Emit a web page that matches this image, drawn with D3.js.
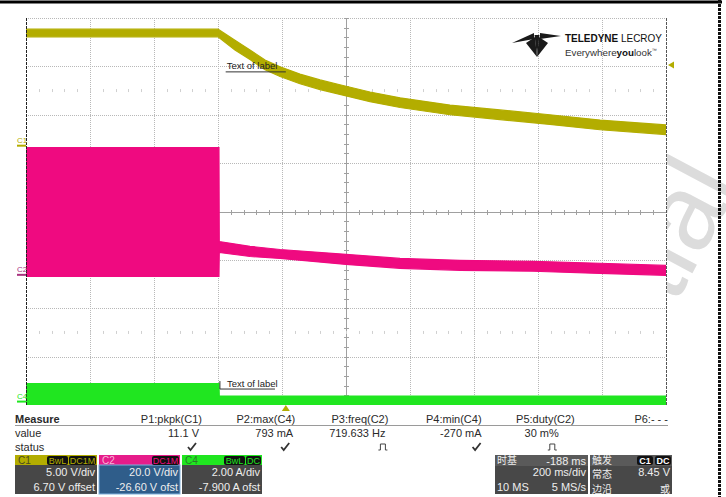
<!DOCTYPE html>
<html><head><meta charset="utf-8">
<script src="https://cdn.jsdelivr.net/npm/d3@7"></script>
<style>
html,body{margin:0;padding:0;background:#fff;}
svg{display:block;font-family:"Liberation Sans",Arial,sans-serif;}
</style></head><body>
<svg id="c" width="726" height="497"></svg>
<script>
// ---------------- data ----------------
const timeDomain = [-812, 1188];           // ms (200 ms/div, delay -188 ms)
const c1Time = [-812, -212, -159, -112, -65, -18, 44, 107, 169, 263, 357, 513, 669, 825, 982, 1188];
const c1Max  = [12.15, 12.15, 11.0, 10.0, 8.95, 8.25, 7.5, 6.9, 6.4, 5.65, 5.05, 4.3, 3.8, 3.3, 2.75, 2.25];
const c1Min  = [11.35, 11.35, 10.0, 9.0, 7.95, 7.25, 6.5, 5.9, 5.4, 4.65, 4.05, 3.3, 2.8, 2.3, 1.75, 1.25];
const c2Time = [-812, -209, -208, -112, -18, 188, 357, 544, 772, 982, 1188];
const c2Max  = [53.0, 53.0, 14.2, 12.2, 10.9, 8.9, 7.2, 6.4, 6.0, 5.2, 4.3];
const c2Min  = [-0.2, -0.2, 9.7, 8.0, 7.2, 4.7, 3.1, 2.3, 1.9, 1.0, 0.2];
const c4Time = [-812, -209, -208, 1188];
const c4Max  = [0.78, 0.78, 0.27, 0.27];
const c4Min  = [-0.27, -0.27, -0.27, -0.27];
const c1Offset = 6.7, c1PerDiv = 5;
const c2Offset = -26.6, c2PerDiv = 20;
const c4Offset = -7.9, c4PerDiv = 2;
const triggerLevel = 8.45;
const measureLabels = ["P1:pkpk(C1)", "P2:max(C4)", "P3:freq(C2)", "P4:min(C4)", "P5:duty(C2)", "P6:- - -"];
const measureValues = ["11.1 V", "793 mA", "719.633 Hz", "-270 mA", "30 m%", ""];
const measureStatus = ["ok", "ok", "pulse", "ok", "pulse", ""];
const channelNames = ["C1", "C2", "C4"];
const channelTags = [["BwL", "DC1M"], ["DC1M"], ["BwL", "DC"]];
const channelScale = ["5.00 V/div", "20.0 V/div", "2.00 A/div"];
const channelOffsetText = ["6.70 V offset", "-26.60 V ofst", "-7.900 A ofst"];
const timebaseText = ["时基", "-188 ms", "200 ms/div", "10 MS", "5 MS/s"];
const triggerText = ["触发", "常态", "8.45 V", "边沿", "或"];
const triggerTags = ["C1", "DC"];
const annotationText = "Text of label";
const watermarkText = "tial";

// ---------------- layout ----------------
const P = {l: 26, r: 666, t: 18, b: 405};
const OLIVE = "#b3ad00", MAG = "#ef0a80", GRN = "#20e620";
const svg = d3.select("#c");

const x = d3.scaleLinear().domain(timeDomain).range([P.l, P.r]);
const yC1 = d3.scaleLinear().domain([-c1Offset - 4*c1PerDiv, -c1Offset + 4*c1PerDiv]).range([P.b, P.t]);
const yC2 = d3.scaleLinear().domain([-c2Offset - 4*c2PerDiv, -c2Offset + 4*c2PerDiv]).range([P.b, P.t]);
const yC4 = d3.scaleLinear().domain([-c4Offset - 4*c4PerDiv, -c4Offset + 4*c4PerDiv]).range([P.b, P.t]);
const gx = d3.scaleLinear().domain([0, 10]).range([P.l, P.r]);
const gy = d3.scaleLinear().domain([0, 8]).range([P.t, P.b]);

// watermark (behind the screen area)
svg.append("text").attr("transform", "translate(675,306) rotate(-62)")
  .attr("font-size", 108).attr("fill", "#dcdcdc").text(watermarkText);
svg.append("rect").attr("x", 0).attr("y", P.t).attr("width", P.r + 1).attr("height", P.b - P.t).attr("fill", "#fff");

// frame
svg.append("line").attr("x1", 0).attr("x2", 722).attr("y1", 2).attr("y2", 2).attr("stroke", "#000").attr("stroke-width", 3);
svg.append("line").attr("x1", 719.5).attr("x2", 719.5).attr("y1", 0).attr("y2", 497).attr("stroke", "#111").attr("stroke-width", 3).attr("stroke-dasharray", "3,1");

// grid
const g = svg.append("g");
g.selectAll(".vg").data(d3.range(1, 10).filter(i => i !== 5)).join("line")
  .attr("x1", d => gx(d) + 0.5).attr("x2", d => gx(d) + 0.5).attr("y1", P.t).attr("y2", P.b)
  .attr("stroke", "#b8b8b8").attr("stroke-dasharray", "1,1");
g.selectAll(".hg").data(d3.range(0, 8).filter(i => i !== 4)).join("line")
  .attr("y1", d => Math.round(gy(d)) + 0.5).attr("y2", d => Math.round(gy(d)) + 0.5).attr("x1", P.l).attr("x2", P.r)
  .attr("stroke", "#b8b8b8").attr("stroke-dasharray", "1,1");
// center axes
const cy = Math.round(gy(4)) + 0.5, cx = Math.round(gx(5)) + 0.5;
g.append("line").attr("x1", P.l).attr("x2", P.r).attr("y1", cy).attr("y2", cy).attr("stroke", "#a0a0a0");
g.append("line").attr("y1", P.t).attr("y2", P.b).attr("x1", cx).attr("x2", cx).attr("stroke", "#a0a0a0");
g.selectAll(".tx").data(d3.range(0, 50)).join("line")
  .attr("x1", d => Math.round(gx(d / 5)) + 0.5).attr("x2", d => Math.round(gx(d / 5)) + 0.5)
  .attr("y1", cy - 2.5).attr("y2", cy + 2.5).attr("stroke", "#a0a0a0");
g.selectAll(".ty").data(d3.range(0, 40)).join("line")
  .attr("y1", d => Math.round(gy(d / 5)) + 0.5).attr("y2", d => Math.round(gy(d / 5)) + 0.5)
  .attr("x1", cx - 2.5).attr("x2", cx + 2.5).attr("stroke", "#a0a0a0");
// faint tick rows
[1.5, 6.5].forEach(r => {
  g.selectAll(null).data(d3.range(1, 50)).join("line")
    .attr("x1", d => Math.round(gx(d / 5)) + 0.5).attr("x2", d => Math.round(gx(d / 5)) + 0.5)
    .attr("y1", gy(r) - 1.5).attr("y2", gy(r) + 1.5).attr("stroke", "#d0d0d0");
});

// traces
svg.append("clipPath").attr("id", "clip").append("rect")
  .attr("x", P.l).attr("y", P.t).attr("width", P.r - P.l).attr("height", P.b - P.t);
const tr = svg.append("g").attr("clip-path", "url(#clip)");
function band(times, mins, maxs, ys, col) {
  const d = times.map((t, i) => ({t, lo: mins[i], hi: maxs[i]}));
  const area = d3.area().x(p => x(p.t)).y0(p => ys(p.lo)).y1(p => ys(p.hi));
  tr.append("path").datum(d).attr("d", area).attr("fill", col).attr("stroke", col).attr("stroke-width", 1.2);
}
band(c1Time, c1Min, c1Max, yC1, OLIVE);
band(c2Time, c2Min, c2Max, yC2, MAG);
band(c4Time, c4Min, c4Max, yC4, GRN);

// plot edges
svg.append("line").attr("x1", P.l + 0.5).attr("x2", P.l + 0.5).attr("y1", P.t).attr("y2", P.b)
  .attr("stroke", "#222").attr("stroke-dasharray", "3,1");
svg.append("line").attr("x1", P.r + 0.5).attr("x2", P.r + 0.5).attr("y1", P.t).attr("y2", P.b)
  .attr("stroke", "#555").attr("stroke-dasharray", "3,1");

// channel ground markers
[["C1", yC1(0) - 1, OLIVE], ["C2", yC2(0) - 1, "#a8327f"], ["C4", yC4(0) - 1, GRN]].forEach(([n, yy, col]) => {
  svg.append("line").attr("x1", 17).attr("x2", 26).attr("y1", yy).attr("y2", yy).attr("stroke", col).attr("stroke-width", 2);
  svg.append("text").attr("x", 17).attr("y", yy - 2.5).attr("font-size", 8).attr("fill", col).text(n);
});
// trigger level marker (right)
const ty = yC1(triggerLevel);
svg.append("path").attr("d", `M${P.r + 2},${ty} L${P.r + 8},${ty - 3.5} L${P.r + 8},${ty + 3.5}Z`).attr("fill", OLIVE);
// trigger time marker (bottom)
const tx0 = x(0);
svg.append("path").attr("d", `M${tx0},${P.b} L${tx0 - 4},${P.b + 6} L${tx0 + 4},${P.b + 6}Z`).attr("fill", OLIVE);

// annotations
const a1y = yC1(7.73);
svg.append("line").attr("x1", x(-188)).attr("x2", x(0)).attr("y1", a1y).attr("y2", a1y).attr("stroke", "#333");
svg.append("text").attr("x", x(-188) + 1).attr("y", a1y - 3).attr("font-size", 9.5).attr("fill", "#222").text(annotationText);
const a2y = yC4(0.56);
svg.append("line").attr("x1", x(-206)).attr("x2", x(-34)).attr("y1", a2y).attr("y2", a2y).attr("stroke", "#333");
svg.append("line").attr("x1", x(-206)).attr("x2", x(-206)).attr("y1", a2y - 8).attr("y2", a2y).attr("stroke", "#333");
svg.append("text").attr("x", x(-206) + 7).attr("y", a2y - 2).attr("font-size", 9.5).attr("fill", "#222").text(annotationText);

// logo
const lg = svg.append("g").attr("fill", "#1a1a1a");
lg.append("path").attr("d", "M512,43 L534,33 L534,39 Z");
lg.append("path").attr("d", "M561,36 L540,33 L540,39 Z");
lg.append("path").attr("d", "M526,43 L535,37 L537,57 Z");
lg.append("path").attr("d", "M548,43 L539,37 L537,57 Z");
lg.append("path").attr("d", "M534.5,35 L539.5,35 L537,56 Z");
const lt = svg.append("text").attr("x", 565).attr("y", 41.5).attr("font-size", 11.5).attr("fill", "#111")
  .attr("textLength", 97).attr("lengthAdjust", "spacingAndGlyphs");
lt.append("tspan").attr("font-weight", "bold").text("TELEDYNE ");
lt.append("tspan").text("LECROY");
const lt2 = svg.append("text").attr("x", 565).attr("y", 56).attr("font-size", 9.5).attr("fill", "#333")
  .attr("textLength", 92).attr("lengthAdjust", "spacingAndGlyphs");
lt2.append("tspan").text("Everywhere");
lt2.append("tspan").attr("font-weight", "bold").attr("fill", "#111").text("you");
lt2.append("tspan").text("look");
lt2.append("tspan").attr("font-size", 5).attr("dy", -4).text("™");

// measure table
const colX = d3.scaleLinear().domain([0, 5]).range([202, 668]);
const T = svg.append("g").attr("font-size", 11).attr("fill", "#2a2a2a");
T.append("text").attr("x", 15).attr("y", 423).attr("font-weight", "bold").text("Measure");
T.append("text").attr("x", 15).attr("y", 437).text("value");
T.append("text").attr("x", 15).attr("y", 451).text("status");
svg.append("line").attr("x1", 15).attr("x2", 668).attr("y1", 425.5).attr("y2", 425.5).attr("stroke", "#9a9a9a");
const valShift = [-3, -2, -3, 0, -16, 0];
const statShift = [-9, -9, -5, -4, -22, 0];
measureLabels.forEach((m, i) => {
  T.append("text").attr("x", colX(i)).attr("y", 423).attr("text-anchor", "end").text(m);
  T.append("text").attr("x", colX(i) + valShift[i]).attr("y", 437).attr("text-anchor", "end").text(measureValues[i]);
  const sx = colX(i) + statShift[i];
  if (measureStatus[i] === "ok") {
    svg.append("path").attr("d", `M${sx - 5},${447} L${sx - 2.5},${450} L${sx + 3},${443}`)
      .attr("fill", "none").attr("stroke", "#333").attr("stroke-width", 1.8);
  } else if (measureStatus[i] === "pulse") {
    svg.append("path").attr("d", `M${sx - 5},${450} L${sx - 3},${450} L${sx - 3},${444} L${sx + 2},${444} L${sx + 2},${450} L${sx + 4},${450}`)
      .attr("fill", "none").attr("stroke", "#444").attr("stroke-width", 1);
  }
});

// channel boxes
const boxX = [15, 99, 182], boxW = [82, 81, 80];
const hdrCol = [OLIVE, "#e61c8a", GRN];
const hdrText = ["#4a4a20", "#f7b4d6", "#2b7a2b"];
const tagCol = [OLIVE, MAG, GRN];
const bodyCol = ["#474747", "#2f5d8a", "#474747"];
channelNames.forEach((n, i) => {
  const bx = boxX[i], w = boxW[i];
  svg.append("rect").attr("x", bx).attr("y", 455).attr("width", w).attr("height", 10).attr("fill", hdrCol[i]);
  svg.append("rect").attr("x", bx).attr("y", 465).attr("width", w).attr("height", 29).attr("fill", bodyCol[i])
    .attr("stroke", i === 1 ? "#7fb0dc" : "none");
  svg.append("text").attr("x", bx + 3).attr("y", 464).attr("font-size", 10).attr("fill", hdrText[i]).text(n);
  let rx = bx + w - 1;
  channelTags[i].slice().reverse().forEach(tg => {
    const tw = tg.length * 6 + 3;
    svg.append("rect").attr("x", rx - tw).attr("y", 456).attr("width", tw).attr("height", 9).attr("rx", 2).attr("fill", "#111");
    svg.append("text").attr("x", rx - tw / 2).attr("y", 464).attr("text-anchor", "middle").attr("font-size", 9)
      .attr("fill", tagCol[i]).text(tg);
    rx -= tw + 1;
  });
  svg.append("text").attr("x", bx + w - 2).attr("y", 476).attr("text-anchor", "end").attr("font-size", 11).attr("fill", "#eee").text(channelScale[i]);
  svg.append("text").attr("x", bx + w - 2).attr("y", 491).attr("text-anchor", "end").attr("font-size", 11).attr("fill", "#eee").text(channelOffsetText[i]);
});

// timebase box
const CJK = "Noto Sans CJK SC";
svg.append("rect").attr("x", 495).attr("y", 455).attr("width", 93).attr("height", 39).attr("fill", "#484848");
svg.append("rect").attr("x", 495).attr("y", 455).attr("width", 93).attr("height", 11).attr("fill", "#5a5a5a");
svg.append("text").attr("x", 497).attr("y", 463.5).attr("font-size", 10).attr("font-family", CJK).attr("fill", "#eee").text(timebaseText[0]);
svg.append("text").attr("x", 586).attr("y", 465).attr("text-anchor", "end").attr("font-size", 11).attr("fill", "#eee").text(timebaseText[1]);
svg.append("text").attr("x", 586).attr("y", 476).attr("text-anchor", "end").attr("font-size", 11).attr("fill", "#eee").text(timebaseText[2]);
svg.append("text").attr("x", 497).attr("y", 491).attr("font-size", 11).attr("fill", "#eee").text(timebaseText[3]);
svg.append("text").attr("x", 586).attr("y", 491).attr("text-anchor", "end").attr("font-size", 11).attr("fill", "#eee").text(timebaseText[4]);

// trigger box
svg.append("rect").attr("x", 590).attr("y", 455).attr("width", 82).attr("height", 39).attr("fill", "#484848");
svg.append("rect").attr("x", 590).attr("y", 455).attr("width", 82).attr("height", 11).attr("fill", "#5a5a5a");
svg.append("text").attr("x", 592).attr("y", 463.5).attr("font-size", 10).attr("font-family", CJK).attr("fill", "#eee").text(triggerText[0]);
let trx = 671;
triggerTags.slice().reverse().forEach(tg => {
  const tw = 16;
  svg.append("rect").attr("x", trx - tw).attr("y", 456).attr("width", tw).attr("height", 9).attr("rx", 2).attr("fill", "#111");
  svg.append("text").attr("x", trx - tw / 2).attr("y", 464).attr("text-anchor", "middle").attr("font-size", 9).attr("font-weight", "bold").attr("fill", "#fff").text(tg);
  trx -= tw + 2;
});
svg.append("text").attr("x", 592).attr("y", 477.5).attr("font-size", 10).attr("font-family", CJK).attr("fill", "#eee").text(triggerText[1]);
svg.append("text").attr("x", 670).attr("y", 476).attr("text-anchor", "end").attr("font-size", 11).attr("fill", "#eee").text(triggerText[2]);
svg.append("text").attr("x", 592).attr("y", 492.5).attr("font-size", 10).attr("font-family", CJK).attr("fill", "#eee").text(triggerText[3]);
svg.append("text").attr("x", 670).attr("y", 492.5).attr("text-anchor", "end").attr("font-size", 10).attr("font-family", CJK).attr("fill", "#eee").text(triggerText[4]);
</script>
</body></html>
